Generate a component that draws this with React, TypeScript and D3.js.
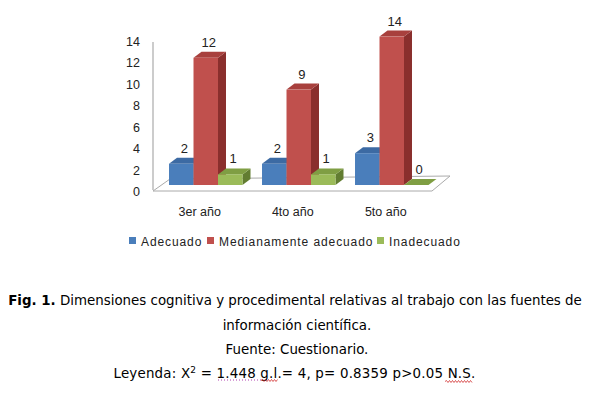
import React from "react";
import * as d3 from "d3";

const categories = ["3er año", "4to año", "5to año"];
const seriesNames = ["Adecuado", "Medianamente adecuado", "Inadecuado"];
const adecuado = [2, 2, 3];
const medianamente = [12, 9, 14];
const inadecuado = [1, 1, 0];
const yTicks = [0, 2, 4, 6, 8, 10, 12, 14];

const colors = [
  { front: "#4a7ebb", top: "#3c6aa3", side: "#2f5584" },
  { front: "#c0504d", top: "#a8403d", side: "#8a2f2d" },
  { front: "#9bbb59", top: "#7f9e43", side: "#627d31" },
];

// spell-check style squiggle
function wavy(x0: number, x1: number, y: number) {
  let d = `M${x0},${y}`;
  let up = true;
  for (let x = x0 + 1.5; x <= x1; x += 1.5) {
    d += ` L${x},${up ? y - 1 : y + 1}`;
    up = !up;
  }
  return d;
}

export default function App() {
  const series = [adecuado, medianamente, inadecuado];
  const dx = 8;
  const dy = -6;

  const x0 = d3
    .scaleBand()
    .domain(categories)
    .range([159.25, 438.25])
    .paddingInner(0.21)
    .paddingOuter(0.105);
  const x1 = d3
    .scaleBand()
    .domain(seriesNames)
    .range([0, x0.bandwidth()]);
  // bars and axis labels sit on slightly different planes (3D chart)
  const yBar = d3.scaleLinear().domain([0, 14]).range([185, 36.6]);
  const yAxis = d3.scaleLinear().domain([0, 14]).range([192, 42]);

  const bars: any[] = [];
  categories.forEach((c, ci) => {
    series.forEach((vals, si) => {
      const v = vals[ci];
      const x = (x0(c) || 0) + (x1(seriesNames[si]) || 0);
      const w = x1.bandwidth();
      const yt = yBar(v);
      const yb = yBar(0);
      const col = colors[si];
      bars.push(
        <g key={c + si}>
          <polygon
            points={`${x + w},${yt} ${x + w + dx},${yt + dy} ${x + w + dx},${yb + dy} ${x + w},${yb}`}
            fill={col.side}
          />
          <polygon
            points={`${x},${yt} ${x + dx},${yt + dy} ${x + w + dx},${yt + dy} ${x + w},${yt}`}
            fill={col.top}
          />
          {v > 0 && <rect x={x} y={yt} width={w} height={yb - yt} fill={col.front} />}
          <text
            x={x + w / 2 + 3}
            y={yt + dy - 5}
            textAnchor="middle"
            fontSize={13}
            fill="#222"
          >
            {v}
          </text>
        </g>
      );
    });
  });

  const chartFont = "'Liberation Sans', Arial, sans-serif";
  const capFont = "'DejaVu Sans', Verdana, sans-serif";

  const legendItems = [
    { x: 129, tx: 141 },
    { x: 207, tx: 219 },
    { x: 377, tx: 389 },
  ];

  return (
    <svg width={595} height={397} style={{ position: "absolute", left: 0, top: 0 }}>
      <rect width={595} height={397} fill="#fff" />
      <g fontFamily={chartFont}>
        {/* vertical axis */}
        <line x1={153} y1={42} x2={153} y2={190} stroke="#999" strokeWidth={1} />
        {/* floor */}
        <polygon
          points="153,191 432,191 450,176 170,179"
          fill="#fff"
          stroke="#aaa"
          strokeWidth={1}
        />
        {yTicks.map((t) => (
          <text key={t} x={140} y={yAxis(t) + 4} textAnchor="end" fontSize={12.5} fill="#222">
            {t}
          </text>
        ))}
        {bars}
        {categories.map((c) => (
          <text
            key={c}
            x={(x0(c) || 0) + x0.bandwidth() / 2 - 6}
            y={216}
            textAnchor="middle"
            fontSize={12.5}
            fill="#222"
          >
            {c}
          </text>
        ))}
        {seriesNames.map((s, i) => (
          <g key={s}>
            <rect x={legendItems[i].x} y={237} width={7} height={7} fill={colors[i].front} />
            <text x={legendItems[i].tx} y={246} fontSize={12} fill="#222" letterSpacing={0.9}>
              {s}
            </text>
          </g>
        ))}
      </g>
      <g fontFamily={capFont} fontSize={13.4} fill="#000" textAnchor="middle">
        <text x={295} y={305}>
          <tspan fontWeight="bold">Fig. 1.</tspan> Dimensiones cognitiva y procedimental relativas al
          trabajo con las fuentes de
        </text>
        <text x={297} y={330}>información científica.</text>
        <text x={297} y={354}>Fuente: Cuestionario.</text>
        <text x={294.5} y={378} letterSpacing={0.2}>
          Leyenda: X<tspan fontSize={9} dy={-5}>2</tspan>
          <tspan dy={5}> = 1.448 g.l.= 4, p= 0.8359 p&gt;0.05 N.S.</tspan>
        </text>
      </g>
      <line x1={218} y1={380} x2={261} y2={380} stroke="#b040b0" strokeWidth={1} strokeDasharray="1,2" />
      <path d={wavy(261, 278, 380.5)} fill="none" stroke="#d03030" strokeWidth={0.8} />
      <path d={wavy(445, 472, 381.5)} fill="none" stroke="#d03030" strokeWidth={0.8} />
    </svg>
  );
}
